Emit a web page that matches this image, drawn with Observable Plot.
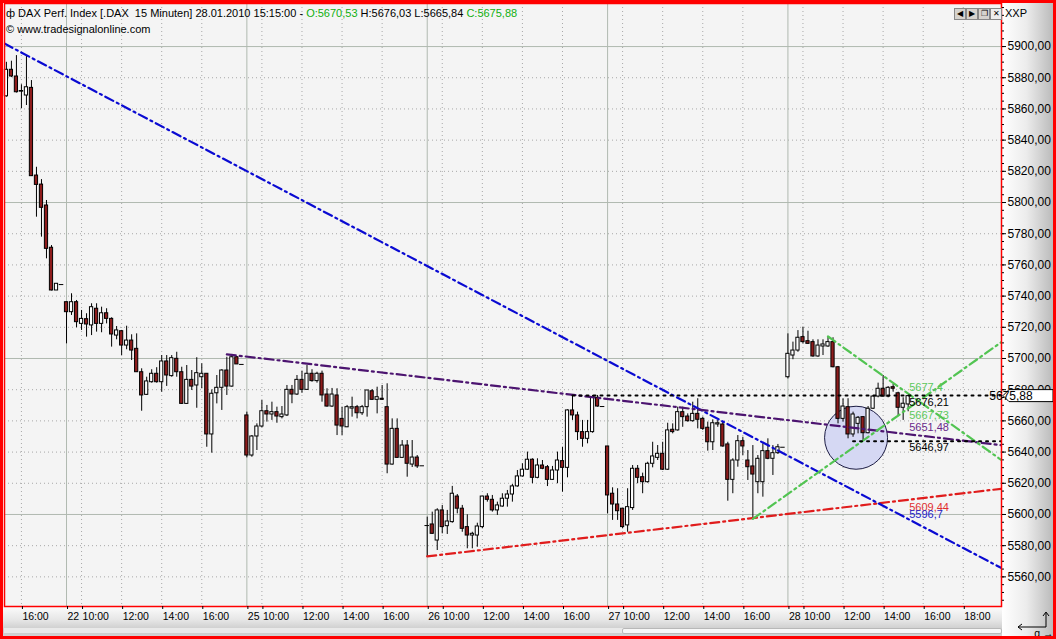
<!DOCTYPE html>
<html><head><meta charset="utf-8">
<script src="https://cdn.jsdelivr.net/npm/d3@7"></script>
<script src="https://cdn.jsdelivr.net/npm/@observablehq/plot@0.6"></script>
<style>
body{margin:0;background:#fff;}
#wrap{position:relative;width:1056px;height:639px;overflow:hidden;font-family:"Liberation Sans",Arial,sans-serif;background:#fff;}
#rp{position:absolute;left:1002px;top:0;width:54px;height:639px;background:linear-gradient(to right,#ffffff 0%,#ececec 45%,#b5b5b5 100%);}
#bp{position:absolute;left:0;top:607px;width:1002px;height:32px;background:linear-gradient(#fbfbfb 0%,#e6e6e6 40%,#c9c9c9 75%,#d8d8d8 100%);}
#chart{position:absolute;left:0;top:0;}
.hd{position:absolute;left:6px;font-size:11px;color:#000;white-space:pre;line-height:13px;}
.g{color:#10b010;}
#scroll{position:absolute;left:4px;top:628px;width:997px;height:5px;background:#e9e9e9;}
#thumb{position:absolute;left:622px;top:628px;width:378px;height:4px;background:#f7f7f7;border:1px solid #b8b8b8;border-radius:2px;}
#border{position:absolute;left:0;top:0;width:1050px;height:633px;border:3px solid #ff0000;pointer-events:none;}
.btn{position:absolute;top:8px;width:10px;height:10px;background:#d6d3ce;border:1px solid #888;font-size:8px;line-height:10px;text-align:center;color:#000;}
#xxp{position:absolute;left:1005px;top:7px;font-size:11px;}
</style></head><body>
<div id="wrap">
<div id="rp"></div>
<div id="bp"></div>
<div id="scroll"></div><div id="thumb"></div>
<div id="chart"></div>
<div class="hd" style="top:7px">ф DAX Perf. Index [.DAX  15 Minuten] 28.01.2010 15:15:00 - <span class="g">O:5670,53</span> H:5676,03 L:5665,84 <span class="g">C:5675,88</span></div>
<div class="hd" style="top:23px">© www.tradesignalonline.com</div>
<div class="btn" style="left:954px">◀</div><div class="btn" style="left:966px">▶</div><div class="btn" style="left:978px">❐</div><div class="btn" style="left:990px;background:#eee">✕</div>
<div id="xxp">XXP</div>
<svg style="position:absolute;left:1014px;top:610px" width="36" height="22"><path d="M32,3 L32,17 L4,17" fill="none" stroke="#000" stroke-width="1"/><path d="M29,6 L32,2 L35,6" fill="none" stroke="#000"/><path d="M8,14 L4,17 L8,20" fill="none" stroke="#000"/></svg>
<div id="border"></div>
</div>
<script>
// ---- data: 15-minute candles [open, high, low, close] ----
const days = ["21","22","25","26","27","28"];
const firstBar = [24, 0, 0, 0, 0, 0];   // index of first visible 15-min bar in each day (bar 0 = 09:15)
const barsPerDay = 36;
const jan21 = [
[5868.1,5889.9,5867.5,5885.1],[5885.1,5890.6,5880.1,5880.8],[5880.8,5894.2,5870.2,5870.7],[5871.3,5875.5,5860.1,5871.5],
[5868.6,5894.2,5862.2,5873.9],[5873.5,5878.2,5816.7,5816.9],[5817.3,5822.6,5790.6,5811.3],[5811.5,5814.7,5777.8,5796.6],
[5798.1,5801.3,5763.9,5770.3],[5771.0,5772.4,5743.3,5743.6],[5743.6,5747.9,5743.6,5747.9],[5747.4,5747.4,5747.4,5747.4]];
const jan22 = [
[5736.1,5736.1,5709.4,5729.7],[5729.7,5741.5,5727.6,5736.1],[5736.1,5737.2,5719.7,5723.3],[5722.2,5730.8,5718.0,5725.4],
[5725.2,5728.7,5713.7,5721.8],[5721.2,5735.1,5714.7,5732.9],[5731.9,5735.1,5716.9,5722.2],[5722.2,5732.9,5716.5,5729.0],
[5729.0,5731.9,5722.2,5725.4],[5725.4,5726.1,5707.3,5715.4],[5714.7,5720.5,5712.0,5718.0],[5717.5,5718.0,5701.9,5708.3],
[5708.3,5720.7,5705.6,5711.5],[5711.5,5715.2,5698.7,5705.1],[5706.2,5715.8,5691.2,5691.2],[5691.2,5693.4,5666.2,5676.3],
[5676.7,5688.0,5676.3,5685.3],[5684.8,5692.8,5684.2,5690.2],[5690.2,5694.1,5684.2,5684.8],[5684.8,5701.9,5678.4,5698.1],
[5698.1,5701.9,5682.1,5689.1],[5688.7,5701.9,5688.0,5700.2],[5699.8,5704.0,5688.0,5691.2],[5691.2,5694.4,5670.5,5670.9],
[5670.9,5695.5,5670.5,5686.3],[5686.3,5692.3,5679.5,5682.0],[5682.7,5700.5,5668.1,5690.6],[5688.0,5696.6,5680.6,5690.2],
[5690.2,5690.2,5643.1,5651.3],[5651.3,5679.9,5639.3,5677.4],[5677.7,5689.1,5670.9,5681.2],[5681.2,5692.8,5666.7,5692.3],
[5692.3,5700.8,5676.3,5682.0],[5682.0,5702.6,5681.6,5700.8],[5700.8,5701.3,5696.2,5696.2],[5696.2,5696.2,5696.2,5696.2]];
const jan25 = [
[5663.5,5665.6,5636.3,5637.8],[5637.8,5650.6,5636.7,5650.0],[5650.0,5658.1,5641.0,5656.4],[5656.4,5673.1,5655.6,5666.2],
[5666.2,5669.9,5659.2,5664.1],[5664.1,5672.0,5660.3,5665.6],[5665.6,5668.8,5658.5,5662.8],[5662.4,5669.2,5661.3,5664.1],
[5663.5,5682.7,5662.8,5679.9],[5679.9,5682.7,5671.0,5676.9],[5676.9,5689.1,5676.3,5686.3],[5686.3,5691.9,5677.7,5679.9],
[5679.9,5695.5,5679.5,5690.2],[5690.2,5692.8,5684.8,5685.5],[5685.5,5691.2,5684.2,5690.2],[5690.2,5691.9,5672.0,5676.3],
[5676.9,5680.6,5668.8,5669.2],[5669.2,5680.8,5668.6,5676.9],[5676.3,5680.6,5650.6,5657.0],[5661.3,5668.8,5650.6,5656.4],
[5655.9,5669.9,5655.7,5668.8],[5667.9,5675.2,5662.4,5668.8],[5668.8,5669.9,5661.3,5664.9],[5664.9,5669.9,5663.5,5668.8],
[5668.8,5679.5,5662.4,5679.5],[5679.0,5680.1,5673.1,5673.5],[5673.5,5681.6,5664.5,5675.2],[5674.2,5682.7,5673.1,5673.5],
[5668.8,5683.8,5626.1,5632.0],[5632.0,5661.3,5631.6,5654.9],[5654.9,5661.3,5635.9,5636.3],[5636.3,5647.4,5635.9,5644.2],
[5644.2,5647.4,5623.9,5632.5],[5632.0,5647.4,5630.1,5636.5],[5636.5,5637.8,5629.5,5630.8],[5631.2,5631.2,5631.2,5631.2]];
const jan26 = [
[5592.9,5598.3,5572.6,5592.9],[5593.6,5601.5,5587.2,5587.6],[5583.3,5603.7,5576.9,5602.6],[5602.6,5605.8,5587.6,5591.9],
[5592.5,5602.6,5587.2,5595.5],[5595.1,5618.0,5594.4,5613.3],[5611.5,5612.8,5600.4,5603.7],[5603.7,5605.8,5588.6,5590.8],
[5591.9,5599.8,5578.0,5586.5],[5586.5,5588.6,5578.0,5587.6],[5586.5,5594.4,5579.0,5592.3],[5591.9,5611.5,5590.8,5611.5],
[5611.5,5613.3,5607.9,5609.4],[5609.4,5612.2,5601.5,5602.6],[5602.6,5607.9,5599.4,5605.8],[5605.1,5613.3,5604.7,5610.1],
[5610.1,5615.4,5604.7,5612.8],[5612.8,5619.2,5607.9,5618.0],[5618.0,5628.2,5617.5,5624.4],[5624.4,5632.5,5623.9,5628.7],
[5628.7,5640.0,5628.2,5635.1],[5635.1,5635.7,5619.7,5623.5],[5623.5,5635.7,5622.9,5631.4],[5631.4,5634.6,5628.7,5629.3],
[5630.3,5631.4,5617.9,5622.2],[5622.2,5630.8,5621.8,5628.2],[5628.2,5640.0,5619.7,5634.6],[5634.2,5643.1,5614.3,5629.9],
[5629.9,5667.1,5623.5,5666.7],[5666.7,5676.3,5660.3,5663.5],[5663.5,5665.6,5647.4,5652.8],[5652.8,5660.3,5643.1,5648.5],
[5648.5,5660.3,5645.3,5652.8],[5652.8,5676.3,5652.1,5675.2],[5674.8,5676.3,5668.8,5669.2],[5669.2,5669.2,5669.2,5669.2]];
const jan27 = [
[5643.6,5643.6,5600.4,5612.2],[5613.3,5617.1,5596.2,5606.4],[5606.4,5616.5,5596.2,5602.1],[5603.7,5603.7,5590.8,5591.9],
[5593.0,5616.5,5588.6,5604.7],[5604.1,5631.4,5602.6,5629.3],[5629.3,5631.4,5619.7,5623.5],[5623.9,5626.5,5613.3,5620.7],
[5620.7,5633.5,5620.1,5632.5],[5632.5,5646.3,5629.9,5637.2],[5636.3,5644.2,5634.6,5638.9],[5638.9,5646.3,5628.2,5628.7],
[5628.7,5658.5,5628.2,5653.9],[5654.3,5658.1,5651.7,5652.8],[5653.9,5668.8,5653.4,5665.6],[5665.6,5668.8,5655.9,5662.4],
[5662.8,5664.5,5659.2,5659.8],[5659.8,5672.0,5659.2,5664.5],[5664.5,5674.2,5654.9,5660.7],[5661.3,5662.4,5653.9,5654.9],
[5655.6,5659.2,5640.6,5646.3],[5646.3,5660.7,5641.0,5658.5],[5657.7,5660.3,5655.9,5658.5],[5657.7,5659.2,5643.1,5643.6],
[5644.9,5646.3,5608.5,5622.2],[5622.2,5635.7,5613.3,5634.6],[5634.6,5650.6,5630.3,5647.0],[5647.0,5649.5,5637.8,5643.6],
[5634.6,5641.0,5621.8,5630.3],[5630.8,5644.2,5597.2,5625.6],[5620.7,5637.8,5613.3,5635.7],[5620.7,5645.3,5611.1,5640.6],
[5640.6,5648.5,5635.1,5635.7],[5635.7,5644.2,5625.0,5639.3],[5639.3,5644.9,5638.5,5643.1],[5643.1,5643.1,5643.1,5643.1]];
const jan28 = [
[5688.0,5715.8,5686.9,5703.0],[5701.9,5710.5,5699.2,5705.1],[5705.1,5717.9,5704.0,5713.3],[5713.7,5720.1,5709.4,5710.5],
[5711.1,5717.5,5709.0,5709.4],[5710.5,5712.0,5700.8,5701.3],[5701.3,5712.0,5700.8,5708.3],[5707.7,5712.0,5701.9,5709.0],
[5707.7,5714.1,5707.2,5710.5],[5710.5,5713.3,5694.0,5694.4],[5694.4,5694.9,5658.1,5661.3],[5661.3,5674.2,5659.2,5669.2],
[5668.8,5674.2,5648.5,5651.3],[5651.3,5665.6,5649.5,5664.1],[5658.1,5662.8,5651.7,5662.0],[5662.4,5662.8,5647.0,5652.1],
[5652.1,5669.2,5651.7,5667.8],[5667.8,5676.3,5667.3,5675.6],[5675.6,5684.2,5674.8,5680.6],[5680.6,5689.1,5675.2,5675.6],
[5675.6,5682.0,5674.8,5681.2],[5681.6,5683.3,5678.4,5680.6],[5677.7,5678.4,5662.8,5668.4],[5668.4,5674.8,5660.3,5671.0],
[5670.53,5676.03,5665.84,5675.88]];
const candleDays = [jan21, jan22, jan25, jan26, jan27, jan28];
const lastClose = 5675.88;

// trend lines: [bar number counted from 22.01 09:15, price]
const blueLine   = [[-12.4, 5901.9], [186.7, 5565.5]];
const purpleLine = [[32, 5702.7], [186.7, 5644.4]];
const redLine    = [[72, 5573.1], [186.7, 5616.5]];
const greenUp    = [[137, 5597.2], [186.7, 5710.7]];
const greenDown  = [[152, 5714.1], [186.7, 5634.7]];
const blackHigh  = [[101, 5676.21], [186.7, 5676.21]];
const blackLow   = [[157, 5646.97], [186.7, 5646.97]];
const circleMark = [[157.6, 5649.2]];
const labelTexts  = ["5677,4", "5676,21", "5667,73", "5651,48", "5646,97", "5609,44", "5596,7"];
const labelPrices = [5681.4, 5671.8, 5663.4, 5655.8, 5643.0, 5604.6, 5600.0];
const labelColors = ["#5cc85c", "#000000", "#5cc85c", "#6a2a8a", "#000000", "#e03030", "#2424c8"];
const yTicks = d3.range(5560, 5901, 20);

// ---- build ----
const rows = [];
candleDays.forEach((arr, d) => arr.forEach((c, k) => {
  const i = firstBar[d] + k;
  rows.push({g: (d - 1) * barsPerDay + i, o: c[0], h: c[1], l: c[2], c: c[3]});
}));
const dojis = rows.filter(r => Math.abs(r.o - r.c) < 0.5);

const xMin = -12.38, xMax = 186.63;
const tickG = [], tickLab = new Map(), dayG = [], timeG = [];
days.forEach((dn, d) => {
  for (let i = 0; i < barsPerDay; i++) {
    const g = (d - 1) * barsPerDay + i;
    if (g < xMin || g > xMax) continue;
    const m = 9 * 60 + 15 + 15 * i;
    if (i === 0 && d > 0) { tickG.push(g); tickLab.set(g, dn); dayG.push(g); }
    else if (m % 120 === 0 && (i < barsPerDay - 1 || d === days.length - 1)) {
      tickG.push(g); tickLab.set(g, String(m / 60).padStart(2, "0") + ":00"); timeG.push(g);
    }
  }
});
const fmt = v => v.toFixed(2).replace(".", ",");
const dash = "9,4,2,4";
const trend = (data, color) => Plot.line(data, {x: d => d[0], y: d => d[1], stroke: color, strokeWidth: 2.2, strokeDasharray: dash, clip: true});

const chart = Plot.plot({
  width: 1056, height: 639,
  marginTop: 3, marginLeft: 4, marginRight: 55, marginBottom: 33,
  x: {domain: [xMin, xMax], axis: null},
  y: {domain: [5541.0, 5927.6], axis: null},
  style: {background: "transparent", fontFamily: "'Liberation Sans', Arial, sans-serif", fontSize: "11px", color: "#000", overflow: "visible"},
  marks: [
    Plot.frame({fill: "#f4f4f4"}),
    Plot.ruleY(yTicks.filter(v => v % 100 !== 0), {stroke: "#a8a8a8", strokeDasharray: "1,3"}),
    Plot.ruleX(timeG, {stroke: "#a8a8a8", strokeDasharray: "1,3"}),
    Plot.ruleY(yTicks.filter(v => v % 100 === 0), {stroke: "#b0b9b0"}),
    Plot.ruleX(dayG, {stroke: "#b0b9b0"}),
    Plot.dot(circleMark, {x: d => d[0], y: d => d[1], r: 31.5, fill: "#d5d8f3", stroke: "#1c1c44", strokeWidth: 1}),
    Plot.ruleX(rows, {x: "g", y1: "l", y2: "h", stroke: "#000", strokeWidth: 1}),
    Plot.rect(rows, {x1: d => d.g - 0.32, x2: d => d.g + 0.32, y1: "o", y2: "c",
      fill: d => d.c > d.o ? "#ffffff" : "#8e1c1c", stroke: "#000", strokeWidth: 1}),
    Plot.ruleY(dojis, {y: "c", x1: d => d.g - 0.45, x2: d => d.g + 0.45, stroke: "#000", strokeWidth: 1}),
    trend(redLine, "#e01c1c"),
    trend(blueLine, "#0a0ad2"),
    trend(purpleLine, "#4c1470"),
    trend(greenUp, "#52c452"),
    trend(greenDown, "#52c452"),
    Plot.line(blackHigh, {x: d => d[0], y: d => d[1], stroke: "#000", strokeWidth: 2, strokeDasharray: "2,5", clip: true}),
    Plot.line(blackLow, {x: d => d[0], y: d => d[1], stroke: "#000", strokeWidth: 2, strokeDasharray: "2,5", clip: true}),
    Plot.text(labelTexts, {x: () => 168, y: (d, i) => labelPrices[i], text: d => d, fill: (d, i) => labelColors[i],
      textAnchor: "start", dx: 1, fontSize: 11}),
    Plot.frame({stroke: "#ff0000", strokeWidth: 1.5}),
    Plot.axisY({anchor: "right", ticks: d3.range(5545, 5926, 5), tickSize: 2, tickFormat: () => "", stroke: "#000"}),
    Plot.axisY({anchor: "right", ticks: yTicks, tickSize: 4, tickPadding: 2, tickFormat: fmt, fontSize: 12, textAnchor: "start"}),
    Plot.axisX({anchor: "bottom", ticks: tickG, tickFormat: g => tickLab.get(g), tickSize: 3, tickPadding: 3,
      textAnchor: "start", dx: 1, fontSize: 10.5})
  ]
});
document.getElementById("chart").appendChild(chart);

// last price marker on the right axis
const yl = chart.scale("y").apply(lastClose);
const svg = d3.select(chart);
svg.append("path")
  .attr("d", `M1003,${yl} L1009,${yl - 6} L1053,${yl - 6} L1053,${yl + 6} L1009,${yl + 6} Z`)
  .attr("fill", "#fff").attr("stroke", "#000").attr("stroke-width", 1);
svg.append("text").attr("x", 1011).attr("y", yl).attr("dy", "0.35em")
  .attr("font-size", 12).attr("fill", "#000").text(fmt(lastClose));
</script>
</body></html>
